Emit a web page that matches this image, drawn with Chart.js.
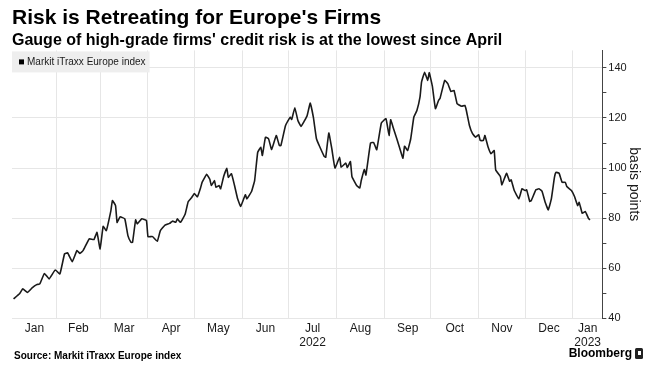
<!DOCTYPE html>
<html>
<head>
<meta charset="utf-8">
<script src="https://cdn.jsdelivr.net/npm/chart.js@4.4.0/dist/chart.umd.min.js"></script>
<style>
  html, body { margin: 0; padding: 0; background: #fff; }
</style>
</head>
<body>
<canvas id="chart" width="657" height="374"></canvas>
<script>
// -----------------------------
// Data
// -----------------------------
const dates = [
  '2022-01-04','2022-01-08','2022-01-10','2022-01-13','2022-01-16','2022-01-19','2022-01-21','2022-01-24','2022-01-27','2022-01-31',
  '2022-02-03','2022-02-06','2022-02-08','2022-02-11','2022-02-14','2022-02-16','2022-02-18','2022-02-22','2022-02-25','2022-02-27',
  '2022-03-01','2022-03-03','2022-03-05','2022-03-08','2022-03-09','2022-03-11','2022-03-12','2022-03-14','2022-03-17','2022-03-19',
  '2022-03-21','2022-03-22','2022-03-24','2022-03-25','2022-03-28','2022-03-31','2022-04-01','2022-04-04','2022-04-07','2022-04-09',
  '2022-04-12','2022-04-15','2022-04-17','2022-04-19','2022-04-20','2022-04-22','2022-04-25','2022-04-27','2022-04-29','2022-05-01',
  '2022-05-03','2022-05-05','2022-05-06','2022-05-09','2022-05-11','2022-05-12','2022-05-14','2022-05-15','2022-05-17','2022-05-18',
  '2022-05-20','2022-05-22','2022-05-23','2022-05-25','2022-05-27','2022-05-29','2022-05-31','2022-06-03','2022-06-04','2022-06-07',
  '2022-06-09','2022-06-11','2022-06-13','2022-06-14','2022-06-16','2022-06-18','2022-06-20','2022-06-23','2022-06-25','2022-06-26',
  '2022-06-29','2022-07-02','2022-07-03','2022-07-05','2022-07-07','2022-07-09','2022-07-11','2022-07-13','2022-07-15','2022-07-17',
  '2022-07-19','2022-07-21','2022-07-24','2022-07-25','2022-07-27','2022-07-29','2022-07-31','2022-08-03','2022-08-04','2022-08-07',
  '2022-08-08','2022-08-10','2022-08-11','2022-08-14','2022-08-16','2022-08-17','2022-08-19','2022-08-20','2022-08-23','2022-08-25',
  '2022-08-27','2022-08-30','2022-09-02','2022-09-04','2022-09-05','2022-09-07','2022-09-09','2022-09-11','2022-09-13','2022-09-14',
  '2022-09-16','2022-09-18','2022-09-20','2022-09-22','2022-09-24','2022-09-25','2022-09-27','2022-09-29','2022-09-30','2022-10-02',
  '2022-10-04','2022-10-06','2022-10-07','2022-10-10','2022-10-12','2022-10-14','2022-10-16','2022-10-18','2022-10-19','2022-10-21',
  '2022-10-23','2022-10-24','2022-10-26','2022-10-28','2022-10-30','2022-11-01','2022-11-02','2022-11-04','2022-11-05','2022-11-07',
  '2022-11-09','2022-11-11','2022-11-12','2022-11-15','2022-11-16','2022-11-19','2022-11-21','2022-11-22','2022-11-24','2022-11-27',
  '2022-11-29','2022-12-01','2022-12-02','2022-12-04','2022-12-05','2022-12-08','2022-12-10','2022-12-12','2022-12-14','2022-12-16',
  '2022-12-18','2022-12-20','2022-12-21','2022-12-23','2022-12-25','2022-12-27','2022-12-28','2022-12-31','2023-01-02','2023-01-04',
  '2023-01-05','2023-01-07','2023-01-09','2023-01-11','2023-01-12'
];

const itraxx = [
  47.7, 49.9, 51.7, 50.3, 52.1, 53.4, 53.7, 57.9, 55.7, 59.3,
  57.7, 65.7, 66.1, 62.6, 67.0, 65.9, 67.0, 71.7, 71.4, 74.3,
  67.7, 76.7, 75.0, 83.0, 87.0, 85.0, 78.3, 80.5, 79.7, 73.0,
  70.3, 70.3, 79.3, 77.7, 79.7, 79.0, 72.6, 72.6, 70.7, 75.0,
  77.2, 77.9, 78.8, 78.3, 79.7, 78.3, 81.5, 86.5, 88.0, 89.8,
  88.5, 92.0, 94.3, 97.5, 95.5, 93.0, 95.0, 92.3, 93.0, 91.7,
  96.7, 99.9, 96.3, 97.7, 93.0, 87.7, 84.7, 89.3, 87.7, 90.6,
  95.0, 106.3, 108.3, 105.0, 112.3, 111.7, 107.4, 113.0, 109.0, 109.0,
  117.0, 120.3, 119.4, 124.1, 119.0, 116.6, 118.6, 121.0, 126.0, 120.3,
  111.7, 108.7, 104.7, 104.3, 114.0, 107.5, 100.0, 104.3, 100.3, 102.0,
  100.2, 102.6, 96.5, 93.0, 92.0, 95.0, 99.4, 97.2, 110.0, 110.2,
  107.3, 118.0, 119.7, 113.0, 119.3, 115.5, 111.7, 107.7, 103.9, 108.7,
  107.0, 111.7, 120.3, 123.0, 128.3, 134.3, 138.3, 135.0, 138.1, 132.7,
  123.7, 127.0, 127.9, 135.0, 133.7, 130.6, 131.0, 125.7, 125.3, 124.7,
  125.0, 123.0, 117.0, 113.7, 112.3, 113.3, 111.0, 111.0, 113.0, 108.5,
  105.7, 107.0, 99.2, 96.6, 93.3, 97.9, 94.7, 95.3, 91.0, 87.7,
  91.7, 91.0, 91.3, 86.7, 87.0, 91.3, 91.7, 90.7, 86.3, 83.3,
  87.7, 96.3, 98.3, 97.9, 94.3, 94.3, 92.6, 91.0, 88.6, 85.0,
  86.3, 81.9, 82.6, 79.9, 79.3
];

const monthLabels = ['Jan', 'Feb', 'Mar', 'Apr', 'May', 'Jun', 'Jul', 'Aug', 'Sep', 'Oct', 'Nov', 'Dec', 'Jan'];
const yearLabels  = ['', '', '', '', '', '', '2022', '', '', '', '', '', '2023'];
const yTickValues = [40, 50, 60, 70, 80, 90, 100, 110, 120, 130, 140];

// -----------------------------
// Helpers: x axis is "days since 1 Jan 2022"
// -----------------------------
const DAY = 864e5;
const BASE = Date.UTC(2022, 0, 1);
const toDay = s => {
  const [y, m, d] = s.split('-').map(Number);
  return (Date.UTC(y, m - 1, d) - BASE) / DAY;
};
const monthStart = i => (Date.UTC(2022, i, 1) - BASE) / DAY;

const xMin = 2;
const xMax = 384;

const points = dates.map((d, i) => ({ x: toDay(d), y: itraxx[i] }));
const gridDays = [];
for (let i = 1; i <= 12; i++) gridDays.push(monthStart(i));
const labelDays = monthLabels.map((_, i) =>
  (Math.max(monthStart(i), xMin) + Math.min(monthStart(i + 1), xMax)) / 2);

const SANS = "'Liberation Sans', Arial, sans-serif";
const TEXT = '#1a1a1a';
const GRID = '#e6e6e6';

// -----------------------------
// Legend box drawn over the grid, top-left of the plot
// -----------------------------
const legendBox = {
  id: 'legendBox',
  afterDatasetsDraw(chart) {
    const { ctx, chartArea } = chart;
    const label = chart.data.datasets[0].label;
    ctx.save();
    ctx.font = '10px ' + SANS;
    const tw = ctx.measureText(label).width;
    const x = chartArea.left;
    const y = chartArea.top + 1;
    ctx.fillStyle = '#eeeeee';
    ctx.fillRect(x, y, tw + 19, 21);
    ctx.fillStyle = '#000';
    ctx.fillRect(x + 7, y + 8, 5, 5);
    ctx.fillStyle = TEXT;
    ctx.textBaseline = 'middle';
    ctx.fillText(label, x + 15, y + 11);
    ctx.restore();
  }
};

// -----------------------------
// Footer: source + Bloomberg mark
// -----------------------------
const footer = {
  id: 'footer',
  afterDraw(chart) {
    const { ctx, width } = chart;
    ctx.save();
    ctx.fillStyle = '#000';
    ctx.textBaseline = 'middle';
    ctx.font = 'bold 10px ' + SANS;
    ctx.fillText('Source: Markit iTraxx Europe index', 14, 356);
    ctx.font = 'bold 12px ' + SANS;
    ctx.textAlign = 'right';
    ctx.fillText('Bloomberg', width - 25, 354);
    ctx.fillStyle = '#222';
    ctx.beginPath();
    ctx.roundRect(width - 22, 348, 8, 11, 1.5);
    ctx.fill();
    ctx.fillStyle = '#fff';
    ctx.fillRect(width - 19, 351, 3, 4);
    ctx.restore();
  }
};

new Chart(document.getElementById('chart'), {
  type: 'line',
  data: {
    datasets: [{
      label: 'Markit iTraxx Europe index',
      data: points,
      borderColor: '#1a1a1a',
      borderWidth: 1.6,
      pointRadius: 0,
      tension: 0.1,
      fill: false
    }]
  },
  options: {
    responsive: false,
    animation: false,
    parsing: false,
    layout: { padding: { left: 12, right: 15, top: 0, bottom: 21 } },
    plugins: {
      legend: { display: false },
      tooltip: { enabled: false },
      title: {
        display: true,
        text: "Risk is Retreating for Europe's Firms",
        align: 'start',
        color: '#000',
        font: { family: SANS, size: 21, weight: 'bold' },
        padding: { top: 6, bottom: 0 }
      },
      subtitle: {
        display: true,
        text: "Gauge of high-grade firms' credit risk is at the lowest since April",
        align: 'start',
        color: '#000',
        font: { family: SANS, size: 16, weight: 'bold' },
        padding: { top: 0, bottom: 0 }
      }
    },
    scales: {
      x: {
        type: 'linear',
        position: 'bottom',
        min: xMin,
        max: xMax,
        afterBuildTicks: s => { s.ticks = gridDays.map(v => ({ value: v })); },
        grid: { color: GRID, drawTicks: false },
        border: { display: false },
        ticks: { display: false }
      },
      months: {
        type: 'linear',
        position: 'bottom',
        min: xMin,
        max: xMax,
        afterBuildTicks: s => { s.ticks = labelDays.map(v => ({ value: v })); },
        grid: { display: false, drawTicks: false },
        border: { display: false },
        ticks: {
          autoSkip: false,
          maxRotation: 0,
          padding: 3,
          color: TEXT,
          font: { family: SANS, size: 12 },
          callback: (v, i) => yearLabels[i] ? [monthLabels[i], yearLabels[i]] : monthLabels[i]
        }
      },
      y: {
        position: 'right',
        min: 40,
        max: 147,
        afterBuildTicks: s => { s.ticks = yTickValues.map(v => ({ value: v })); },
        grid: {
          color: c => (c.tick && c.tick.value % 20 === 0) ? GRID : 'rgba(0,0,0,0)',
          tickColor: '#444',
          tickLength: 4
        },
        border: { color: '#444', width: 1 },
        ticks: {
          padding: 2,
          color: TEXT,
          font: { family: SANS, size: 11 },
          callback: v => v % 20 === 0 ? v : ''
        },
        title: {
          display: true,
          text: 'basis points',
          color: TEXT,
          font: { family: SANS, size: 14 },
          padding: { top: 0, bottom: -3.5 }
        }
      }
    }
  },
  plugins: [legendBox, footer]
});
</script>
</body>
</html>
